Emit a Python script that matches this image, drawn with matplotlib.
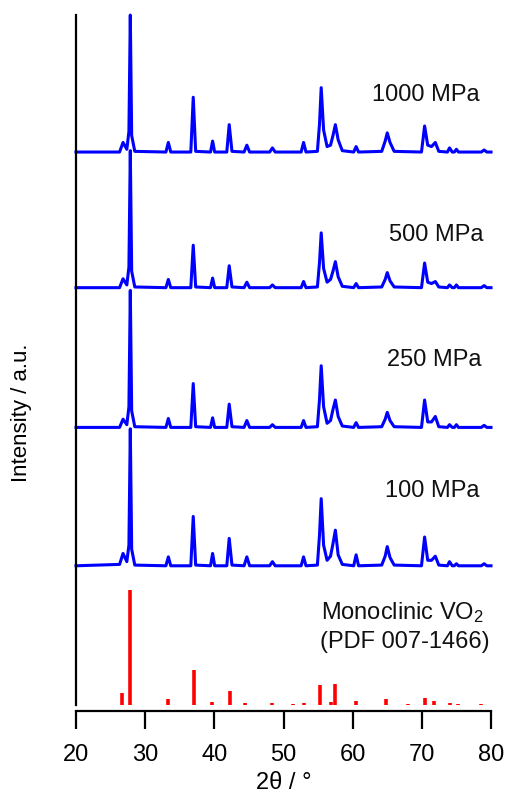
import matplotlib
matplotlib.use("Agg")
import matplotlib.pyplot as plt

plt.rcParams['font.family'] = ['Liberation Sans', 'DejaVu Sans']
plt.rcParams['mathtext.fontset'] = 'custom'
plt.rcParams['mathtext.rm'] = 'Liberation Sans'
plt.rcParams['mathtext.it'] = 'Liberation Sans:italic'

# ---- data (2theta vertices shared by all measured patterns) ----
two_theta = [20.0, 26.3, 26.8, 27.35, 27.65, 27.85, 28.05, 28.5,
             33.0, 33.35, 33.7, 36.6, 36.95, 37.3, 39.45, 39.75, 40.05,
             41.8, 42.15, 42.55, 44.3, 44.7, 45.1, 48.0, 48.4, 48.8,
             52.55, 52.9, 53.25, 54.9, 55.2, 55.45, 55.8, 56.3, 56.8, 57.15,
             57.5, 57.9, 58.5, 60.15, 60.5, 60.85, 64.2, 64.7, 65.0, 65.4, 66.0,
             69.95, 70.4, 70.85, 71.4, 71.95, 72.45, 73.7, 74.0, 74.4,
             74.7, 75.0, 75.3, 78.6, 79.0, 79.4, 80.0]

int_1000 = [0, 0, 7, 2, 15, 100, 12, 0.5,
            0, 7, 0, 0, 40, 0.5, 0, 8, 0,
            0, 20, 0.5, 0, 5, 0, 0, 3, 0,
            0, 7, 0, 0.5, 20, 47, 16, 4, 5, 12,
            20, 9, 1, 0, 4, 0, 0.5, 8, 14, 7, 0.5,
            0, 19, 5, 4, 7, 0.5, 0, 3, 0,
            0, 2, 0, 0, 1.5, 0, 0]

int_500 = [0, 0, 6.5, 2, 15, 100, 12, 0.5,
           0, 6, 0, 0, 31, 0.5, 0, 7, 0,
           0, 16, 0.5, 0, 4, 0, 0, 2, 0,
           0, 4.5, 0, 0.5, 18, 40, 14, 4, 6, 12,
           19, 8, 1, 0, 3, 0, 0.5, 6, 11, 5, 0.5,
           0, 18, 4, 3, 4.5, 0.5, 0, 2, 0,
           0, 2, 0, 0, 1.5, 0, 0]

int_250 = [0, 0, 6, 2, 15, 100, 12, 0.5,
           0, 6.5, 0, 0, 32, 0.5, 0, 7, 0,
           0, 17, 0.5, 0, 5, 0, 0, 2, 0,
           0, 5, 0, 0.5, 20, 45, 15, 3, 5, 13,
           20, 8, 1, 0, 3.5, 0, 0.5, 6, 11, 5, 0.5,
           0, 20, 4, 4, 8, 0.5, 0, 2, 0,
           0, 2, 0, 0, 1.5, 0, 0]

int_100 = [0, 1, 9, 3, 15, 100, 12, 0.5,
           0, 6.5, 0, 0, 36, 0.5, 0, 9, 0,
           0, 20, 0.5, 0, 6.5, 0, 0, 3, 0,
           0, 6.5, 0, 0.5, 22, 49, 15, 4, 7, 16,
           26, 8, 1, 0, 8, 0, 0.5, 7, 14, 6, 0.5,
           0, 21, 4, 4, 7, 0.5, 0, 3, 0,
           0, 1.5, 0, 0, 1.5, 0, 0]

samples = ['1000 MPa', '500 MPa', '250 MPa', '100 MPa']

# reference pattern PDF 007-1466 (monoclinic VO2)
ref_pos = [26.7, 27.85, 33.35, 37.0, 39.6, 42.2, 44.5, 48.3, 51.4, 52.9,
           55.3, 56.9, 57.4, 60.5, 64.8, 68.0, 70.4, 71.7, 74.0, 75.2, 78.5]
ref_int = [10, 100, 5, 30, 2.5, 12, 2, 2, 1, 2,
           17, 3, 18, 3.5, 5, 1, 6, 3.5, 1.5, 1, 1]

# ---- layout ----
W, H = 506, 797
fig = plt.figure(figsize=(W / 100, H / 100), dpi=100)
x0, x1, ytop, ybot = 76, 491, 15, 711
ax = fig.add_axes([x0 / W, (H - ybot) / H, (x1 - x0) / W, (ybot - ytop) / H])

pxu = 1.37  # pixels per intensity unit
offsets = [408, 309, 207, 106]
ref_base = 4.4
ref_scale = 0.84

blue = '#0000ff'
for name, ints, off in zip(samples, [int_1000, int_500, int_250, int_100], offsets):
    ax.plot(two_theta, [v + off for v in ints], color=blue, lw=2.2,
            solid_joinstyle='round', clip_on=False)

ax.vlines(ref_pos, ref_base, [ref_base + ref_scale * v for v in ref_int],
          color='#ff0000', lw=2.6)

ax.set_xlim(20, 80)
ax.set_ylim(0, 696 / pxu)

fs = 17
lab_pos = [(62.8, 445), (65.25, 343.4), (64.96, 252), (64.7, 156)]
for name, (lx, ly) in zip(samples, lab_pos):
    ax.text(lx, ly, name, fontsize=fs, ha='left', va='baseline', color='#111111')
ax.text(55.4, 67, 'Monoclinic VO$_2$', fontsize=fs, ha='left', va='baseline', color='#111111')
ax.text(55.3, 46, '(PDF 007-1466)', fontsize=fs, ha='left', va='baseline', color='#111111')

for s in ['top', 'right']:
    ax.spines[s].set_visible(False)
ax.spines['left'].set_linewidth(1.6)
ax.spines['bottom'].set_linewidth(1.6)
ax.spines['left'].set_bounds(ref_base, 696 / pxu)
ax.set_yticks([])
ax.set_xticks([20, 30, 40, 50, 60, 70, 80])
ax.tick_params(axis='x', direction='out', length=13, width=1.6, labelsize=fs, pad=11)

ax.set_xlabel('2θ / °', fontsize=fs, labelpad=4)
fig.text(22 / W, 1 - 413 / H, 'Intensity / a.u.', rotation=90, fontsize=16,
         ha='center', va='center')

fig.savefig('out.png', dpi=100)
